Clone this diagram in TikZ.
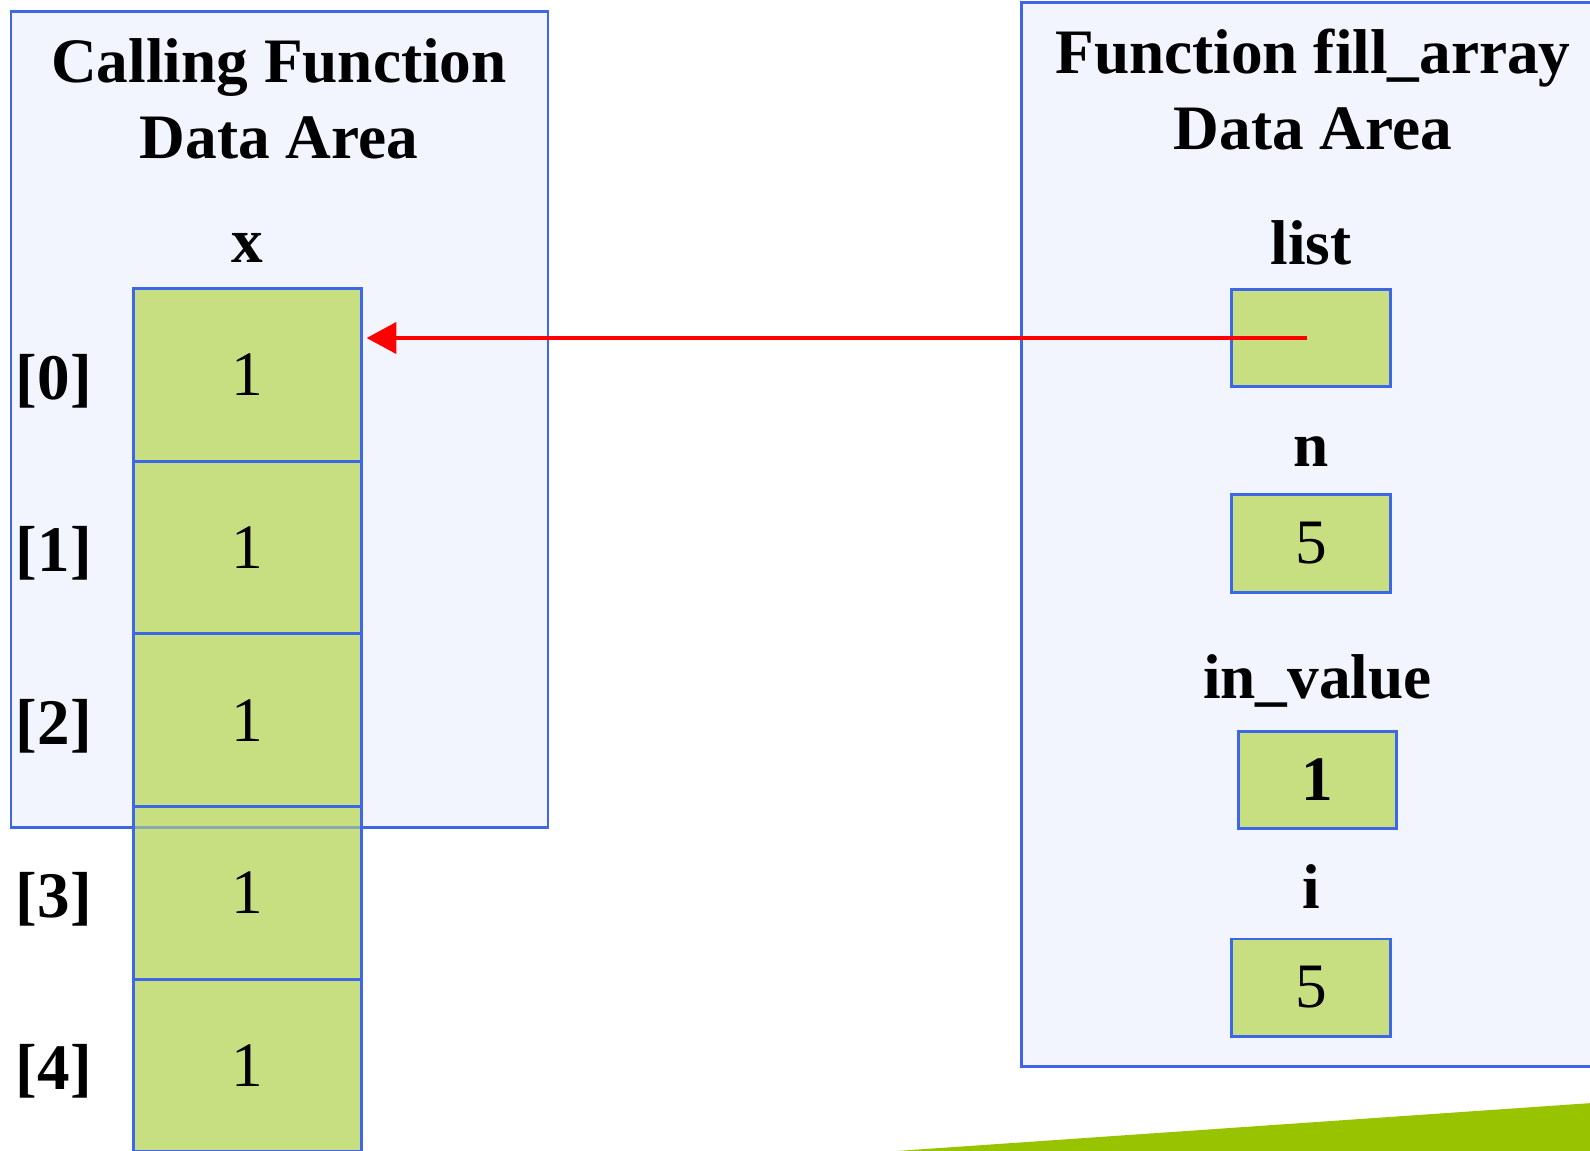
\documentclass[tikz,border=0pt]{standalone}
\usepackage{fontspec}
\setmainfont{Liberation Serif}
\usetikzlibrary{positioning, chains, arrows.meta}
\definecolor{areafill}{HTML}{F2F5FD}
\definecolor{areadraw}{HTML}{3D67E6}
\definecolor{cellfill}{HTML}{C8DF81}
\definecolor{wedgegreen}{HTML}{97C300}
\tikzstyle{area} = [draw=areadraw, fill=areafill, line width=0.85pt]
\tikzstyle{cellbox} = [rectangle, draw=areadraw, fill=cellfill, line width=0.85pt, minimum width=2.27cm, minimum height=1.725cm, inner sep=0pt, font=\fontsize{18}{21.6}\selectfont]
\tikzstyle{varbox} = [cellbox, minimum width=1.58cm, minimum height=0.97cm]
\tikzstyle{areatitle} = [align=center, font=\bfseries\fontsize{18}{21.6}\selectfont, inner sep=0pt, anchor=base]
\tikzstyle{varlbl} = [font=\bfseries\fontsize{18}{21.6}\selectfont, inner sep=0pt, anchor=base]
\tikzstyle{indexlbl} = [font=\bfseries\fontsize{18.5}{22}\selectfont, inner sep=0pt, yshift=-0.06cm]
\tikzstyle{pointer} = [draw=red, line width=1.35pt, -{Triangle[length=8.5pt,width=8.8pt]}]

\begin{document}
\begin{tikzpicture}[x=0.01cm, y=-0.01cm, start chain=going below, node distance=-0.85pt]
\useasboundingbox (0,0) rectangle (1590,1150);
\clip (0,0) rectangle (1590,1150);
\fill[white] (0,0) rectangle (1590,1150);

% data areas
\draw[area] (11,11) rectangle (548,827);
\draw[area] (1021,2) rectangle (1610,1066);
\fill[wedgegreen] (882,1152) -- (1592,1103) -- (1592,1152) -- cycle;

% base anchor sits on the last line
\node[areatitle] (calltitle) at (279,158) {Calling Function\\Data Area};
\node[areatitle] (filltitle) at (1313,149) {Function f\kern0pt ill\_array\\Data Area};

% array x
\node[cellbox, on chain] (c0) at (247.5,375) {1};
\foreach \i in {1,...,4}
  \node[cellbox, on chain] (c\i) {1};
\foreach \i in {0,...,4}
  \node[indexlbl, left=0.4cm of c\i] (idx\i) {[\i]};
\draw[areadraw, line width=0.85pt, draw opacity=0.45] (11,11) rectangle (548,827);
\node[varlbl] (xlbl) at ([yshift=0.25cm]c0.north) {x};

% parameters and locals
\node[varbox] (list) at (1311,338) {};
\node[varbox] (n) at (1311,543.5) {5};
\node[varbox] (invalue) at (1317.5,780) {\bfseries 1};
\node[varbox] (ivar) at (1311,987.5) {5};

\node[varlbl] (listlbl) at ([yshift=0.23cm]list.north) {list};
\node[varlbl] (nlbl) at ([yshift=0.27cm]n.north) {n};
\node[varlbl] (invaluelbl) at ([yshift=0.31cm]invalue.north) {in\_value};
\node[varlbl] (ilbl) at ([yshift=0.29cm]ivar.north) {i};

\draw[pointer] ([xshift=-0.04cm]list.center) -- ([xshift=0.04cm]c0.east |- list.center);
\end{tikzpicture}
\end{document}
